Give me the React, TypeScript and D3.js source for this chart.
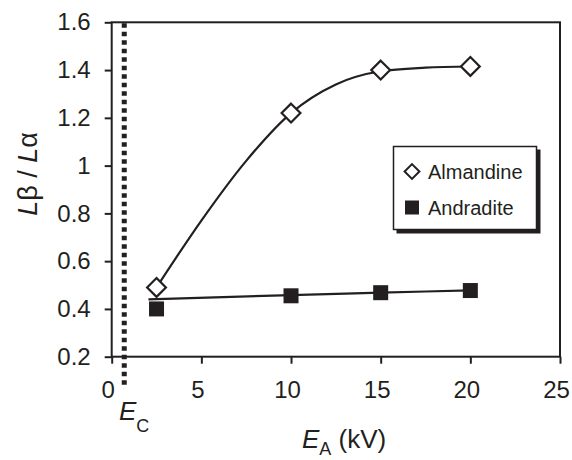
import { useEffect, useRef } from 'react';
import * as d3 from 'd3';

// accelerating voltage (kV)
const energies = [2.5, 10, 15, 20];
const almandine = [0.49, 1.22, 1.4, 1.415];
const andradite = [0.4, 0.455, 0.468, 0.477];

// smooth fitted curves
const almandineFitX = [2.5, 5, 7.5, 10, 12.5, 15, 17.5, 20];
const almandineFitY = [0.49, 0.77, 1.02, 1.22, 1.34, 1.395, 1.41, 1.415];
const andraditeFitX = [2.05, 10, 15, 20];
const andraditeFitY = [0.44, 0.458, 0.468, 0.478];

const xTicks = [0, 5, 10, 15, 20, 25];
const yTicks = [0.2, 0.4, 0.6, 0.8, 1, 1.2, 1.4, 1.6];
const ecValue = 0.7;
const seriesNames = ['Almandine', 'Andradite'];

const ink = '#231f20';
const font = '"Liberation Sans", Arial, sans-serif';

const App = () => {
    const ref = useRef<SVGSVGElement>(null);

    useEffect(() => {
        const svg = d3.select(ref.current);
        svg.selectAll('*').remove();

        const x = d3.scaleLinear().domain([0, 25]).range([111.7, 560]);
        const y = d3.scaleLinear().domain([0.2, 1.6]).range([356.7, 22.3]);

        // frame
        svg.append('rect')
            .attr('x', x(0)).attr('y', y(1.6))
            .attr('width', x(25) - x(0)).attr('height', y(0.2) - y(1.6))
            .attr('fill', 'none').attr('stroke', ink).attr('stroke-width', 2);

        const yAxis = svg.append('g')
            .attr('transform', `translate(${x(0)},0)`)
            .call(d3.axisLeft(y).tickValues(yTicks).tickSize(7).tickSizeOuter(0).tickPadding(14)
                .tickFormat(d => String(d)));
        const xAxis = svg.append('g')
            .attr('transform', `translate(0,${y(0.2)})`)
            .call(d3.axisBottom(x).tickValues(xTicks).tickSize(7).tickSizeOuter(0).tickPadding(17)
                .tickFormat(d => String(d)));
        [yAxis, xAxis].forEach(g => {
            g.select('.domain').remove();
            g.selectAll('line').attr('stroke', ink).attr('stroke-width', 2);
            g.selectAll('text').attr('fill', ink).style('font-family', font).style('font-size', '24px');
        });
        xAxis.selectAll('text').attr('dx', -4);

        // E_C marker
        svg.append('line')
            .attr('x1', x(ecValue)).attr('x2', x(ecValue))
            .attr('y1', y(1.6) + 1).attr('y2', 388)
            .attr('stroke', ink).attr('stroke-width', 5).attr('stroke-dasharray', '4.5 4');

        // fit curves
        const almLine = d3.line<number>()
            .x((_, i) => x(almandineFitX[i])).y(d => y(d)).curve(d3.curveMonotoneX);
        svg.append('path').attr('d', almLine(almandineFitY))
            .attr('fill', 'none').attr('stroke', ink).attr('stroke-width', 2.2);
        const andLine = d3.line<number>()
            .x((_, i) => x(andraditeFitX[i])).y(d => y(d)).curve(d3.curveMonotoneX);
        svg.append('path').attr('d', andLine(andraditeFitY))
            .attr('fill', 'none').attr('stroke', ink).attr('stroke-width', 2.2);

        const diamond = d3.symbol(d3.symbolDiamond2, 225);
        svg.append('g').selectAll('path').data(almandine).enter().append('path')
            .attr('d', diamond())
            .attr('transform', (d, i) => `translate(${x(energies[i])},${y(d)})`)
            .attr('fill', 'white').attr('stroke', ink).attr('stroke-width', 2.2);
        svg.append('g').selectAll('rect').data(andradite).enter().append('rect')
            .attr('x', (d, i) => x(energies[i]) - 7.5).attr('y', d => y(d) - 7.5)
            .attr('width', 15).attr('height', 15).attr('fill', ink);

        // legend
        const lg = svg.append('g');
        lg.append('rect').attr('x', 396.5).attr('y', 149.5).attr('width', 144).attr('height', 84).attr('fill', ink);
        lg.append('rect').attr('x', 393.5).attr('y', 146.5).attr('width', 143).attr('height', 83)
            .attr('fill', 'white').attr('stroke', ink).attr('stroke-width', 1.5);
        lg.append('path').attr('d', d3.symbol(d3.symbolDiamond2, 140)())
            .attr('transform', 'translate(412,171.5)')
            .attr('fill', 'white').attr('stroke', ink).attr('stroke-width', 2);
        lg.append('rect').attr('x', 405).attr('y', 200.5).attr('width', 14).attr('height', 14).attr('fill', ink);
        lg.selectAll('text').data(seriesNames).enter().append('text')
            .attr('x', 428).attr('y', (d, i) => 178.5 + i * 36)
            .attr('fill', ink).style('font-family', font).style('font-size', '20px')
            .text(d => d);

        // axis titles
        const yt = svg.append('text')
            .attr('transform', 'translate(37,174) rotate(-90)')
            .attr('text-anchor', 'middle').attr('fill', ink)
            .style('font-family', font).style('font-size', '27px');
        yt.append('tspan').attr('font-style', 'italic').text('L');
        yt.append('tspan').text('β / ');
        yt.append('tspan').attr('font-style', 'italic').text('L');
        yt.append('tspan').text('α');

        const xt = svg.append('text').attr('x', 302).attr('y', 448).attr('fill', ink)
            .style('font-family', font).style('font-size', '26px');
        xt.append('tspan').attr('font-style', 'italic').text('E');
        xt.append('tspan').attr('dy', 7).style('font-size', '18px').text('A');
        xt.append('tspan').attr('dy', -7).text(' (kV)');

        const ec = svg.append('text').attr('x', 119).attr('y', 420).attr('fill', ink)
            .style('font-family', font).style('font-size', '26px');
        ec.append('tspan').attr('font-style', 'italic').text('E');
        ec.append('tspan').attr('dy', 12).style('font-size', '18px').text('C');
    }, []);

    return (
        <svg ref={ref} width={572} height={460}
            style={{ position: 'absolute', left: 0, top: 0, background: 'white' }} />
    );
};

export default App;
